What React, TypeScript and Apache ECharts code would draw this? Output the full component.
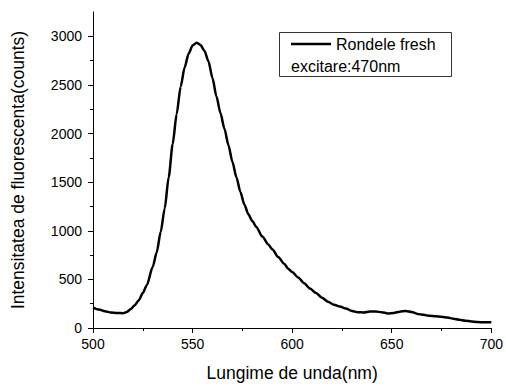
import React, { useEffect, useRef } from "react";
import * as echarts from "echarts";

const wavelengths = [
  500, 503, 506, 509, 512, 515, 517, 519, 521, 523, 525, 527, 530, 532, 534, 536, 538, 540, 542, 544,
  546, 548, 550, 552, 554, 556, 558, 560, 562, 564, 566, 568, 570, 572, 574, 576, 578, 580, 582,
  585, 588, 590, 593, 596, 598, 600, 603, 606, 609, 612, 615, 618, 621, 624, 627, 630, 633, 636, 639,
  642, 645, 648, 651, 654, 657, 660, 663, 666, 669, 672, 675, 678, 681, 684, 687, 690, 693, 696, 700,
];
const counts = [
  210, 190, 172, 160, 155, 152, 165, 195, 235, 285, 360, 440, 630, 780, 990, 1230, 1550, 1890, 2200, 2480,
  2680, 2820, 2905, 2935, 2910, 2850, 2740, 2570, 2380, 2210, 2050, 1880, 1710, 1550, 1400, 1270, 1170, 1100, 1040,
  940, 860, 810, 730, 660, 610, 575, 520, 460, 405, 360, 310, 270, 240, 220, 200, 175, 162, 160, 170,
  170, 162, 150, 155, 168, 175, 165, 145, 135, 125, 120, 115, 108, 95, 85, 75, 68, 62, 58, 58,
];
const yMajorTicks = [0, 500, 1000, 1500, 2000, 2500, 3000];
const yMinorTicks = [250, 750, 1250, 1750, 2250, 2750];
const seriesName = "Rondele fresh";
const noteText = "excitare:470nm";
const xTitle = "Lungime de unda(nm)";
const yTitle = "Intensitatea de fluorescenta(counts)";

const FONT = "'Liberation Sans', Arial, sans-serif";

export default function App() {
  const ref = useRef<HTMLDivElement>(null);
  useEffect(() => {
    if (!ref.current) return;
    const chart = echarts.init(ref.current, null, { renderer: "svg" });
    const data = wavelengths.map((w, i) => [w, counts[i]]);
    const fmt = (v: number) => String(v);
    chart.setOption({
      animation: false,
      backgroundColor: "#fff",
      textStyle: { fontFamily: FONT, color: "#000" },
      grid: { left: 93, right: 13, top: 12, bottom: 53, containLabel: false },
      xAxis: {
        type: "value",
        min: 500,
        max: 700,
        interval: 50,
        name: xTitle,
        nameLocation: "middle",
        nameGap: 36,
        nameTextStyle: { fontSize: 17.5, color: "#000", fontFamily: FONT },
        axisLine: { show: true, lineStyle: { color: "#000", width: 1 } },
        axisTick: { show: true, length: 5, lineStyle: { color: "#000" } },
        minorTick: { show: true, splitNumber: 2, length: 3, lineStyle: { color: "#000" } },
        axisLabel: { fontSize: 14, color: "#000", margin: 9, fontFamily: FONT, formatter: fmt },
        splitLine: { show: false },
      },
      yAxis: [
        {
          type: "value",
          min: 0,
          max: 3250,
          position: "left",
          name: yTitle,
          nameLocation: "middle",
          nameGap: 66,
          nameRotate: 90,
          nameTextStyle: { fontSize: 17.5, color: "#000", fontFamily: FONT },
          axisLine: { show: true, lineStyle: { color: "#000", width: 1 } },
          axisTick: { show: true, length: 5, customValues: yMajorTicks, lineStyle: { color: "#000" } },
          axisLabel: { fontSize: 14, color: "#000", margin: 11, customValues: yMajorTicks, fontFamily: FONT, formatter: fmt },
          splitLine: { show: false },
        },
        {
          type: "value",
          min: 0,
          max: 3250,
          position: "left",
          offset: 0,
          axisLine: { show: false },
          axisTick: { show: true, length: 3, customValues: yMinorTicks, lineStyle: { color: "#000" } },
          axisLabel: { show: false },
          splitLine: { show: false },
        },
      ],
      legend: {
        show: true,
        left: 291,
        top: 36,
        padding: 0,
        itemWidth: 40,
        itemHeight: 14,
        itemGap: 5,
        textStyle: { fontSize: 16, color: "#000", fontFamily: FONT },
        data: [{ name: seriesName, icon: "path://M0,6L40,6L40,8.6L0,8.6Z", itemStyle: { color: "#000" } }],
      },
      graphic: [
        {
          type: "rect",
          shape: { x: 279.5, y: 32.5, width: 172, height: 44 },
          style: { fill: "none", stroke: "#333", lineWidth: 1 },
          z: 10,
        },
        {
          type: "text",
          x: 291,
          y: 66,
          style: { text: noteText, font: `16px ${FONT}`, fill: "#000", textVerticalAlign: "middle" },
          z: 10,
        },
      ],
      series: [
        {
          name: seriesName,
          type: "line",
          data,
          smooth: 0.25,
          smoothMonotone: "x",
          symbol: "none",
          lineStyle: { color: "#000", width: 2.5 },
          itemStyle: { color: "#000" },
        },
      ],
    });
    return () => chart.dispose();
  }, []);
  return <div ref={ref} style={{ position: "absolute", left: 0, top: 0, width: 506, height: 387 }} />;
}
